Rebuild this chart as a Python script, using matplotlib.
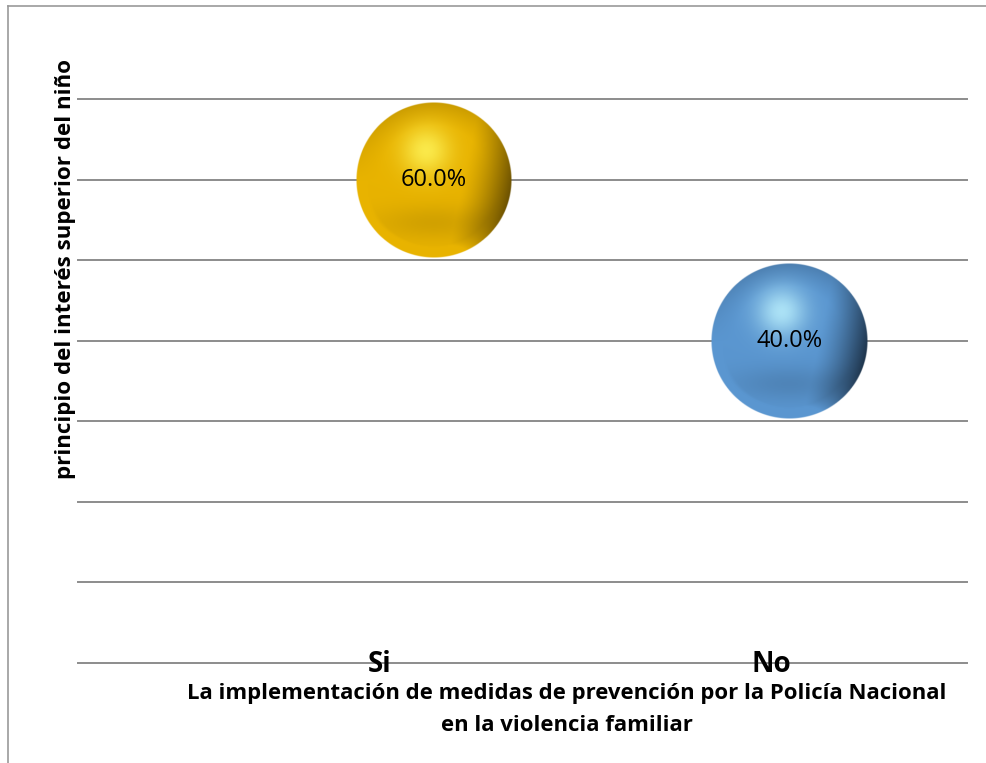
import numpy as np
import matplotlib
matplotlib.use("Agg")
from matplotlib import pyplot as plt
from matplotlib.lines import Line2D

categories = ["Si", "No"]
x_values = [1, 2]
percent = [60.0, 40.0]
y_ticks = [0, 10, 20, 30, 40, 50, 60, 70]

plt.rcParams['font.family'] = ['Open Sans', 'DejaVu Sans']


def sphere_image(base, highlight, dark, n=300):
    # shaded ball: bright spot upper left, dark on the right side
    u = np.linspace(-1, 1, n)
    uu, vv = np.meshgrid(u, -u)
    r2 = uu ** 2 + vv ** 2
    r = np.sqrt(r2)
    inside = r2 <= 1.0
    base = np.array(matplotlib.colors.to_rgb(base))
    hi = np.array(matplotlib.colors.to_rgb(highlight))
    dk = np.array(matplotlib.colors.to_rgb(dark))
    # darkening toward right edge
    side = np.clip((uu * 0.95 - vv * 0.2 - 0.35) / 0.65, 0, 1) ** 1.4
    # soft darker band in the lower half, lighter rim at the very bottom
    band = np.exp(-((vv + 0.55) ** 2) / 0.05) * np.exp(-(uu ** 2) / 0.6) * 0.14
    rim = np.clip((r - 0.85) / 0.15, 0, 1) * np.clip(-vv, 0, 1) * 0.3
    dark_amt = np.clip(side * 0.85 + band - rim * (1 - side), 0, 1)
    col = base + (dk - base) * dark_amt[..., None]
    spot = np.exp(-((uu + 0.1) ** 2 + (vv - 0.38) ** 2) / 0.1)
    col = col + (hi - col) * (spot[..., None] * 0.8)
    # slightly deeper tone near upper edge
    top = np.clip((r - 0.7) / 0.3, 0, 1) * np.clip(vv, 0, 1) * 0.2
    col = col + (dk - col) * top[..., None]
    img = np.zeros((n, n, 4))
    img[..., :3] = np.clip(col, 0, 1)
    edge = np.clip((1 - r) * n / 2, 0, 1)
    img[..., 3] = edge * inside
    return img


fig = plt.figure(figsize=(9.87, 7.63), dpi=100)
ax = fig.add_axes([0.079, 0.131, 0.901, 0.739])
ax.set_xlim(0, 2.5)
ax.set_ylim(0, 70)
for s in ax.spines.values():
    s.set_visible(False)
ax.set_xticks([])
ax.set_yticks(y_ticks)
ax.tick_params(axis='y', length=0, labelleft=False)
ax.grid(axis='y', color='#8c8c8c', linewidth=1.4)
ax.set_axisbelow(True)
for gl in ax.get_ygridlines():
    gl.set_clip_on(False)

colors = [("#e8b300", "#fff65c", "#4a3600"), ("#5a96d0", "#bff4ff", "#0e1a28")]
radius_px = 78
fig.canvas.draw()
inv = ax.transData.inverted()
for xv, pv, (b, h, d) in zip(x_values, percent, colors):
    cx, cy = ax.transData.transform((xv, pv))
    x0, y0 = inv.transform((cx - radius_px, cy - radius_px))
    x1, y1 = inv.transform((cx + radius_px, cy + radius_px))
    ax.imshow(sphere_image(b, h, d), extent=(x0, x1, y0, y1),
              aspect='auto', zorder=3, interpolation='bilinear')
    ax.text(xv, pv, f"{pv:.1f}%", ha='center', va='center',
            fontsize=17, color='black', zorder=4)
ax.set_xlim(0, 2.5)
ax.set_ylim(0, 70)

# category labels sit on the bottom gridline
for lx, name in zip([0.339, 0.78], categories):
    ax.annotate(name, (lx, 0.0), xycoords='axes fraction', xytext=(0, -1),
                textcoords='offset points', ha='center', va='center',
                fontsize=20, fontweight='bold')

fig.text(0.574, 0.070, "La implementación de medidas de prevención por la Policía Nacional\nen la violencia familiar",
         ha='center', va='center', fontsize=15.9, fontweight='bold', linespacing=1.7)
fig.text(0.066, 0.647, "principio del interés superior del niño", rotation=90,
         ha='center', va='center', fontsize=16.1, fontweight='bold')

# outer frame
fig.add_artist(Line2D([0.008, 1.0], [0.992, 0.992], color='#999999', linewidth=1.2))
fig.add_artist(Line2D([0.008, 0.008], [0.0, 0.992], color='#999999', linewidth=1.2))

fig.savefig("out.png", dpi=100)
